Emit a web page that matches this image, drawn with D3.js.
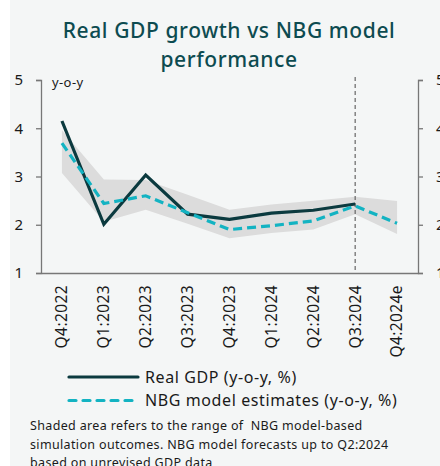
<!DOCTYPE html>
<html><head><meta charset="utf-8">
<script src="https://cdn.jsdelivr.net/npm/d3@7"></script>
<style>
html,body{margin:0;padding:0;background:#fff;}
svg{display:block;}
text{white-space:pre;}
</style></head>
<body>
<svg id="chart" width="440" height="466"></svg>
<script>
const categories = ["Q4:2022","Q1:2023","Q2:2023","Q3:2023","Q4:2023","Q1:2024","Q2:2024","Q3:2024","Q4:2024e"];
const realGDP = [4.15, 2.01, 3.03, 2.22, 2.11, 2.24, 2.30, 2.43, null];
const nbgModel = [3.69, 2.44, 2.60, 2.25, 1.90, 1.98, 2.08, 2.39, 2.03];
const bandUpper = [3.96, 2.94, 2.93, 2.62, 2.31, 2.42, 2.50, 2.58, 2.49];
const bandLower = [3.07, 2.06, 2.31, 2.02, 1.72, 1.83, 1.90, 2.22, 1.81];
const yTicks = [1, 2, 3, 4, 5];
const titleLines = ["Real GDP growth vs NBG model", "performance"];
const legendLabels = ["Real GDP (y-o-y, %)", "NBG model estimates (y-o-y, %)"];
const noteLines = ["Shaded area refers to the range of  NBG model-based",
  "simulation outcomes. NBG model forecasts up to Q2:2024",
  "based on unrevised GDP data"];
const dividerCategory = "Q3:2024";

(function () {
const svg = d3.select("#chart");
const font = "'Noto Sans', sans-serif";
svg.append("rect").attr("x", 10).attr("y", 0).attr("width", 430).attr("height", 466).attr("fill", "#f4f6f6");

const pL = 41, pR = 418, pT = 80, pB = 273;
const x = d3.scaleBand().domain(categories).range([pL, pR]);
const xc = d => x(d) + x.bandwidth() / 2;
const y = d3.scaleLinear().domain([1, 5]).range([pB, pT]);

svg.append("g").selectAll("text").data(titleLines).join("text")
  .attr("x", 229).attr("y", (d, i) => 38 + i * 28.5)
  .attr("text-anchor", "middle").attr("font-family", font)
  .attr("font-size", 21).attr("letter-spacing", 0.6).attr("font-weight", 500).attr("fill", "#0d4b50").text(d => d);

const rows = categories.map((c, i) => ({c, lo: bandLower[i], hi: bandUpper[i], g: realGDP[i], m: nbgModel[i]}));
svg.append("path").datum(rows)
  .attr("d", d3.area().x(d => xc(d.c)).y0(d => y(d.lo)).y1(d => y(d.hi)))
  .attr("fill", "#dcdcdc");

const yl = svg.append("g").attr("transform", `translate(${pL},0)`)
  .call(d3.axisLeft(y).tickValues(yTicks).tickFormat(d3.format("d")).tickSizeOuter(0).tickSize(5).tickPadding(13));
const yr = svg.append("g").attr("transform", `translate(${pR},0)`)
  .call(d3.axisRight(y).tickValues(yTicks).tickFormat(d3.format("d")).tickSizeOuter(0).tickSize(5).tickPadding(13));
const xa = svg.append("g").attr("transform", `translate(0,${pB})`)
  .call(d3.axisBottom(x).tickSize(0).tickPadding(0));
xa.select(".domain").attr("stroke", "#777").attr("stroke-width", 1.3);
xa.selectAll("text").attr("transform", "rotate(-90)").attr("text-anchor", "end")
  .attr("x", -12).attr("y", 0).attr("dy", "0.35em")
  .attr("font-size", 15.5).attr("letter-spacing", 0.4).attr("font-family", font).attr("fill", "#1a1a1a");
[yl, yr].forEach(g => {
  g.select(".domain").attr("stroke", "#777").attr("stroke-width", 1.3);
  g.selectAll("line").attr("stroke", "#777").attr("stroke-width", 1.3);
  g.selectAll("text").attr("font-size", 15).attr("font-family", font).attr("fill", "#1a1a1a");
});

svg.append("text").attr("x", 52).attr("y", 87).attr("font-family", font).attr("font-size", 13)
  .attr("letter-spacing", 0.4).attr("fill", "#1a1a1a").text("y-o-y");

svg.append("line").attr("x1", xc(dividerCategory)).attr("x2", xc(dividerCategory))
  .attr("y1", pT - 3).attr("y2", pB).attr("stroke", "#666").attr("stroke-width", 1.2)
  .attr("stroke-dasharray", "4,3");

svg.append("path").datum(rows.filter(d => d.g != null))
  .attr("d", d3.line().x(d => xc(d.c)).y(d => y(d.g)))
  .attr("fill", "none").attr("stroke", "#0b3a3f").attr("stroke-width", 3.2);
svg.append("path").datum(rows)
  .attr("d", d3.line().x(d => xc(d.c)).y(d => y(d.m)))
  .attr("fill", "none").attr("stroke", "#13b3c2").attr("stroke-width", 3.2)
  .attr("stroke-dasharray", "9,5");

const lg = svg.append("g");
legendLabels.forEach((lab, i) => {
  const ly = 377 + i * 23.5;
  lg.append("line").attr("x1", 69).attr("x2", 138).attr("y1", ly).attr("y2", ly)
    .attr("stroke", i === 0 ? "#0b3a3f" : "#13b3c2").attr("stroke-width", 3.2)
    .attr("stroke-linecap", "round")
    .attr("stroke-dasharray", i === 0 ? null : "7,7");
  lg.append("text").attr("x", 145).attr("y", ly).attr("dy", "0.35em").attr("font-family", font)
    .attr("font-size", 16).attr("letter-spacing", 0.6).attr("fill", "#1a1a1a").text(lab);
});

svg.append("g").selectAll("text").data(noteLines).join("text")
  .attr("x", 30).attr("y", (d, i) => 430 + i * 18.5).attr("font-family", font)
  .attr("font-size", 12.5).attr("letter-spacing", 0.35).attr("fill", "#1a1a1a").text(d => d);
})();
</script>
</body></html>
